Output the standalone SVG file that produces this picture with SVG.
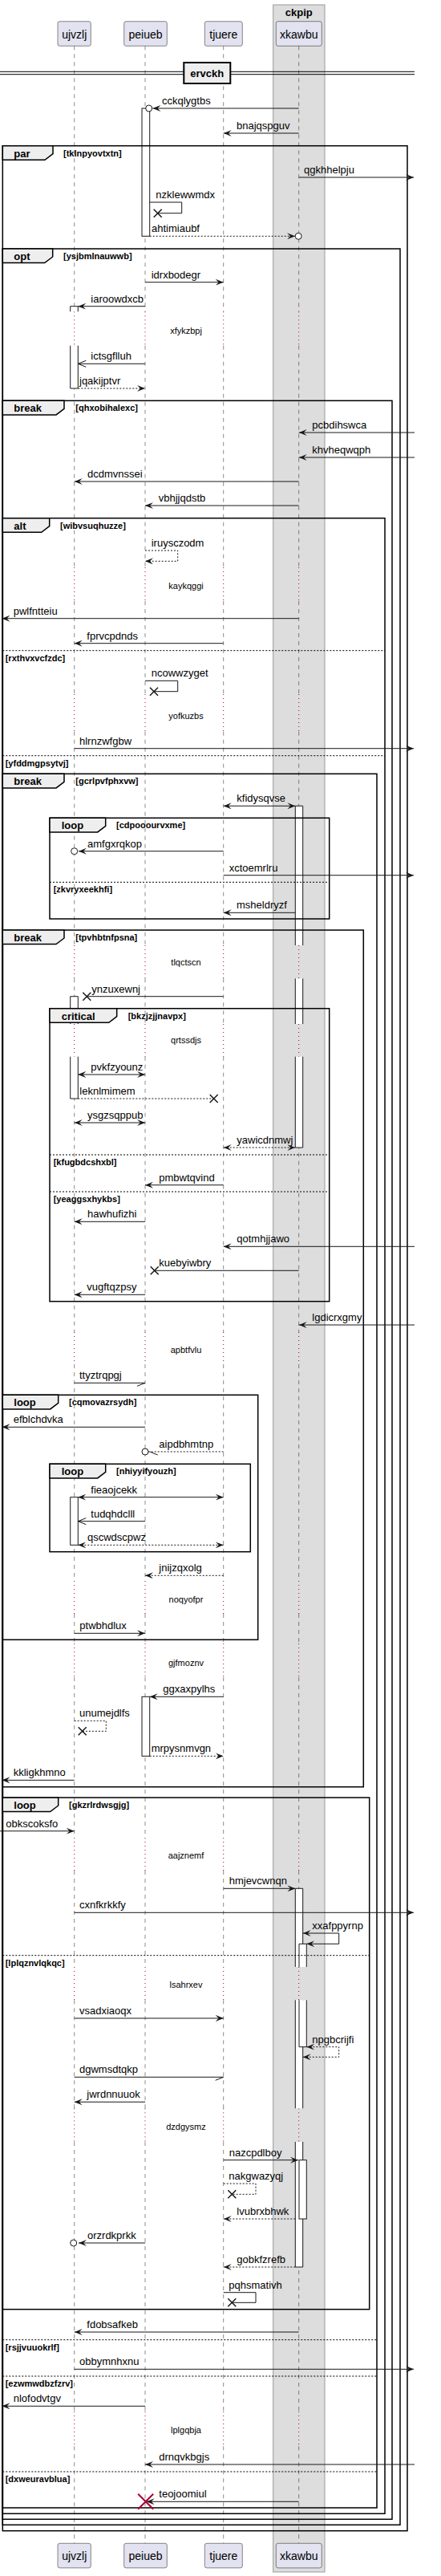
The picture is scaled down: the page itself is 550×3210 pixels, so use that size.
<svg xmlns="http://www.w3.org/2000/svg" width="550" height="3210" viewBox="0 0 550 3210">
<defs>
<style>
text{font-family:"Liberation Sans",Arial,sans-serif;fill:#000}
.t{font-size:13px}
.pn{font-size:14px;text-anchor:middle}
.g{font-weight:bold;font-size:11px}
.tb{font-weight:bold;font-size:13px}
.dt{font-size:11px;text-anchor:middle}
.ll{stroke:#181818;stroke-width:0.5;stroke-dasharray:5,5;fill:none}
.dl{stroke:#A80036;stroke-width:1;stroke-dasharray:1,4;fill:none}
.af{fill:#fff;stroke:none}
.ae{fill:none;stroke:#181818;stroke-width:1}
.ar{fill:#fff;stroke:#181818;stroke-width:1}
.fr{fill:none;stroke:#000;stroke-width:1.5}
.tab{fill:#EEEEEE;stroke:#000;stroke-width:1.5}
.el{stroke:#000;stroke-width:1;stroke-dasharray:2,2}
.m{stroke:#181818;stroke-width:1;fill:none}
.md{stroke:#181818;stroke-width:1;fill:none;stroke-dasharray:2,2}
.x{stroke:#181818;stroke-width:1.5}
.c{fill:#fff;stroke:#181818;stroke-width:1}
.p{fill:#E2E2F0;stroke:#181818;stroke-width:0.5}
</style>
<marker id="ah" viewBox="0 0 10 8" refX="10" refY="4" markerWidth="10" markerHeight="8" orient="auto" markerUnits="userSpaceOnUse"><path d="M0,0 L10,4 L0,8 L4,4 Z" fill="#181818"/></marker>
<marker id="as" viewBox="0 0 10 8" refX="0" refY="4" markerWidth="10" markerHeight="8" orient="auto" markerUnits="userSpaceOnUse"><path d="M10,0 L0,4 L10,8 L6,4 Z" fill="#181818"/></marker>
<marker id="ao" viewBox="-1 -1 12 10" refX="10" refY="4" markerWidth="12" markerHeight="10" orient="auto" markerUnits="userSpaceOnUse"><path d="M0,0 L10,4 L0,8" fill="none" stroke="#181818" stroke-width="1"/></marker>
</defs>
<rect width="550" height="3210" fill="#fff"/>
<g id="box-ckpip">
<rect x="340.7" y="6" width="64.3" height="3199" fill="#DDDDDD" stroke="#999" stroke-width="1"/>
<text x="372.8" y="20" class="tb" text-anchor="middle">ckpip</text>
</g>
<g id="lifelines">
<path class="ll" d="M92.7,57.3V388.3M92.7,430.7V707M92.7,749V865M92.7,911.7V1178M92.7,1219.3V1276M92.7,1316.7V1660M92.7,1700V1970M92.7,2011V2048M92.7,2090V2290M92.7,2331V2451M92.7,2492.3V2627.3M92.7,2669V3005M92.7,3048.3V3169.3"/>
<path class="ll" d="M181,57.3V388.3M181,430.7V707M181,749V865M181,911.7V1178M181,1219.3V1276M181,1316.7V1660M181,1700V1970M181,2011V2048M181,2090V2290M181,2331V2451M181,2492.3V2627.3M181,2669V3005M181,3048.3V3169.3"/>
<path class="ll" d="M278.7,57.3V388.3M278.7,430.7V707M278.7,749V865M278.7,911.7V1178M278.7,1219.3V1276M278.7,1316.7V1660M278.7,1700V1970M278.7,2011V2048M278.7,2090V2290M278.7,2331V2451M278.7,2492.3V2627.3M278.7,2669V3005M278.7,3048.3V3169.3"/>
<path class="ll" d="M372.7,57.3V388.3M372.7,430.7V707M372.7,749V865M372.7,911.7V1178M372.7,1219.3V1276M372.7,1316.7V1660M372.7,1700V1970M372.7,2011V2048M372.7,2090V2290M372.7,2331V2451M372.7,2492.3V2627.3M372.7,2669V3005M372.7,3048.3V3169.3"/>
</g>
<g id="delays">
<path class="dl" d="M92.7,388.3V430.7M92.7,707V749M92.7,865V911.7M92.7,1178V1219.3M92.7,1276V1316.7M92.7,1660V1700M92.7,1970V2011M92.7,2048V2090M92.7,2290V2331M92.7,2451V2492.3M92.7,2627.3V2669M92.7,3005V3048.3"/>
<path class="dl" d="M181,388.3V430.7M181,707V749M181,865V911.7M181,1178V1219.3M181,1276V1316.7M181,1660V1700M181,1970V2011M181,2048V2090M181,2290V2331M181,2451V2492.3M181,2627.3V2669M181,3005V3048.3"/>
<path class="dl" d="M278.7,388.3V430.7M278.7,707V749M278.7,865V911.7M278.7,1178V1219.3M278.7,1276V1316.7M278.7,1660V1700M278.7,1970V2011M278.7,2048V2090M278.7,2290V2331M278.7,2451V2492.3M278.7,2627.3V2669M278.7,3005V3048.3"/>
<path class="dl" d="M372.7,388.3V430.7M372.7,707V749M372.7,865V911.7M372.7,1178V1219.3M372.7,1276V1316.7M372.7,1660V1700M372.7,1970V2011M372.7,2048V2090M372.7,2290V2331M372.7,2451V2492.3M372.7,2627.3V2669M372.7,3005V3048.3"/>
<text class="dt" x="232" y="415.5">xfykzbpj</text>
<text class="dt" x="232" y="733.5">kaykqggi</text>
<text class="dt" x="232" y="895.5">yofkuzbs</text>
<text class="dt" x="232" y="1203">tlqctscn</text>
<text class="dt" x="232" y="1300">qrtssdjs</text>
<text class="dt" x="232" y="1685.5">apbtfvlu</text>
<text class="dt" x="232" y="1997">noqyofpr</text>
<text class="dt" x="232" y="2076">gjfmoznv</text>
<text class="dt" x="232" y="2315.5">aajznemf</text>
<text class="dt" x="232" y="2477">lsahrxev</text>
<text class="dt" x="232" y="2654">dzdgysmz</text>
<text class="dt" x="232" y="3032">lplgqbja</text>
</g>
<g id="activations">
<rect class="ar" x="177" y="135" width="9.7" height="159.3"/>
<rect class="af" x="87.7" y="381.7" width="9.6" height="6.6"/><path class="ae" d="M87.7,388.3V381.7H97.3V388.3"/>
<rect class="af" x="87.7" y="430.7" width="9.6" height="53.3"/><path class="ae" d="M87.7,430.7V484H97.3V430.7"/>
<rect class="af" x="368.3" y="1004.3" width="9.4" height="173.7"/><path class="ae" d="M368.3,1178V1004.3H377.7V1178"/>
<rect class="af" x="368.3" y="1219.3" width="9.4" height="56.7"/><path class="ae" d="M368.3,1219.3V1276M377.7,1219.3V1276"/>
<rect class="af" x="368.3" y="1316.7" width="9.4" height="113.3"/><path class="ae" d="M368.3,1316.7V1430H377.7V1316.7"/>
<rect class="af" x="87.7" y="1241.7" width="9.6" height="34.3"/><path class="ae" d="M87.7,1276V1241.7H97.3V1276"/>
<rect class="af" x="87.7" y="1316.7" width="9.6" height="52.3"/><path class="ae" d="M87.7,1316.7V1369H97.3V1316.7"/>
<rect class="ar" x="87.7" y="1865.7" width="9.6" height="59.6"/>
<rect class="ar" x="177" y="2114.3" width="9.7" height="74"/>
<rect class="af" x="368.3" y="2353.3" width="9.4" height="97.7"/><path class="ae" d="M368.3,2451V2353.3H377.7V2451"/>
<rect class="af" x="368.3" y="2492.3" width="9.4" height="135"/><path class="ae" d="M368.3,2492.3V2627.3M377.7,2492.3V2627.3"/>
<rect class="af" x="368.3" y="2669" width="9.4" height="156"/><path class="ae" d="M368.3,2669V2825H377.7V2669"/>
<rect class="af" x="373" y="2422.3" width="9.3" height="28.7"/><path class="ae" d="M373,2451V2422.3H382.3V2451"/>
<rect class="af" x="373" y="2492.3" width="9.3" height="58.4"/><path class="ae" d="M373,2492.3V2550.7H382.3V2492.3"/>
<rect class="ar" x="373" y="2691.7" width="9.3" height="73.3"/>
</g>
<g id="frames">
<g id="f-par"><rect class="fr" x="3.3" y="181.7" width="504.7" height="2972"/><polygon class="tab" points="3.3,181.7 66,181.7 66,191.7 56,199.3 3.3,199.3"/><text class="tb" x="17.3" y="195.7">par</text><text class="g" x="79" y="194.7">[tklnpyovtxtn]</text></g>
<g id="f-opt"><rect class="fr" x="3.3" y="310" width="495.7" height="2836.3"/><polygon class="tab" points="3.3,310 65.7,310 65.7,320 55.7,327.6 3.3,327.6"/><text class="tb" x="17.3" y="324">opt</text><text class="g" x="79" y="323">[ysjbmlnauwwb]</text></g>
<g id="f-break1"><rect class="fr" x="3.3" y="499.3" width="485.7" height="2640"/><polygon class="tab" points="3.3,499.3 80,499.3 80,509.3 70,516.9 3.3,516.9"/><text class="tb" x="17.3" y="513.3">break</text><text class="g" x="94.3" y="512.3">[qhxobihalexc]</text></g>
<g id="f-alt"><rect class="fr" x="3.3" y="645.7" width="476.7" height="2486.6"/><polygon class="tab" points="3.3,645.7 61.7,645.7 61.7,655.7 51.7,663.3 3.3,663.3"/><text class="tb" x="17.3" y="659.7">alt</text><text class="g" x="75" y="658.7">[wibvsuqhuzze]</text>
<line class="el" x1="3.3" y1="810.7" x2="480" y2="810.7"/><text class="g" x="6.7" y="823.5">[rxthvxvcfzdc]</text>
<line class="el" x1="3.3" y1="941.7" x2="480" y2="941.7"/><text class="g" x="6.7" y="954.5">[yfddmgpsytvj]</text></g>
<g id="f-break2"><rect class="fr" x="3.3" y="964.3" width="466.7" height="2160.7"/><polygon class="tab" points="3.3,964.3 80,964.3 80,974.3 70,981.9 3.3,981.9"/><text class="tb" x="17.3" y="978.3">break</text><text class="g" x="94.3" y="977.3">[gcrlpvfphxvw]</text>
<line class="el" x1="3.3" y1="2915.7" x2="470" y2="2915.7"/><text class="g" x="6.7" y="2928.5">[rsjjvuuokrlf]</text>
<line class="el" x1="3.3" y1="2961" x2="470" y2="2961"/><text class="g" x="6.7" y="2974">[ezwmwdbzfzrv]</text>
<line class="el" x1="3.3" y1="3080" x2="470" y2="3080"/><text class="g" x="6.7" y="3093">[dxweuravblua]</text></g>
<g id="f-loop1"><rect class="fr" x="62" y="1019.3" width="348.7" height="125.7"/><polygon class="tab" points="62,1019.3 131.7,1019.3 131.7,1029.3 121.7,1036.9 62,1036.9"/><text class="tb" x="76.7" y="1033.3">loop</text><text class="g" x="145" y="1032.3">[cdpooourvxme]</text>
<line class="el" x1="62" y1="1099.3" x2="410.7" y2="1099.3"/><text class="g" x="66.7" y="1112">[zkvryxeekhfi]</text></g>
<g id="f-break3"><rect class="fr" x="3.3" y="1159" width="450" height="1067.7"/><polygon class="tab" points="3.3,1159 80,1159 80,1169 70,1176.6 3.3,1176.6"/><text class="tb" x="17.3" y="1173">break</text><text class="g" x="94.3" y="1172">[tpvhbtnfpsna]</text></g>
<g id="f-critical"><rect class="fr" x="62" y="1256.7" width="348.7" height="365"/><polygon class="tab" points="62,1256.7 145.7,1256.7 145.7,1266.7 135.7,1274.3 62,1274.3"/><text class="tb" x="76.7" y="1270.7">critical</text><text class="g" x="159.7" y="1269.7">[bkzjzjjnavpx]</text>
<line class="el" x1="62" y1="1439" x2="410.7" y2="1439"/><text class="g" x="66.7" y="1452">[kfugbdcshxbl]</text>
<line class="el" x1="62" y1="1485" x2="410.7" y2="1485"/><text class="g" x="66.7" y="1498">[yeaggsxhykbs]</text></g>
<g id="f-loop2"><rect class="fr" x="3.3" y="1738.3" width="318.4" height="305"/><polygon class="tab" points="3.3,1738.3 72.7,1738.3 72.7,1748.3 62.7,1755.9 3.3,1755.9"/><text class="tb" x="17.3" y="1752.3">loop</text><text class="g" x="86" y="1751.3">[cqmovazrsydh]</text></g>
<g id="f-loop3"><rect class="fr" x="62" y="1824.3" width="250.3" height="109.4"/><polygon class="tab" points="62,1824.3 131.7,1824.3 131.7,1834.3 121.7,1841.9 62,1841.9"/><text class="tb" x="76.7" y="1838.3">loop</text><text class="g" x="145" y="1837.3">[nhiyyifyouzh]</text></g>
<g id="f-loop4"><rect class="fr" x="3.3" y="2240" width="457.4" height="637.7"/><polygon class="tab" points="3.3,2240 72.7,2240 72.7,2250 62.7,2257.6 3.3,2257.6"/><text class="tb" x="17.3" y="2254">loop</text><text class="g" x="86" y="2253">[gkzrlrdwsgjg]</text>
<line class="el" x1="3.3" y1="2436.7" x2="460.7" y2="2436.7"/><text class="g" x="6.7" y="2449.5">[lplqznvlqkqc]</text></g>
</g>
<g id="divider-ervckh">
<line x1="0" y1="89.3" x2="517" y2="89.3" stroke="#000" stroke-width="1"/>
<line x1="0" y1="92.7" x2="517" y2="92.7" stroke="#000" stroke-width="1"/>
<rect x="229.3" y="78" width="58" height="26" fill="#EEEEEE" stroke="#000" stroke-width="2"/>
<text class="tb" x="258.3" y="95.5" text-anchor="middle">ervckh</text>
</g>
<g id="p-ujvzlj"><rect class="p" x="72" y="26.7" width="41.3" height="30.6" rx="2.5"/><text class="pn" x="92.7" y="47.5">ujvzlj</text><rect class="p" x="72" y="3169.3" width="41.3" height="30.6" rx="2.5"/><text class="pn" x="92.7" y="3190">ujvzlj</text></g>
<g id="p-peiueb"><rect class="p" x="154.7" y="26.7" width="53.6" height="30.6" rx="2.5"/><text class="pn" x="181.5" y="47.5">peiueb</text><rect class="p" x="154.7" y="3169.3" width="53.6" height="30.6" rx="2.5"/><text class="pn" x="181.5" y="3190">peiueb</text></g>
<g id="p-tjuere"><rect class="p" x="255.3" y="26.7" width="47" height="30.6" rx="2.5"/><text class="pn" x="278.8" y="47.5">tjuere</text><rect class="p" x="255.3" y="3169.3" width="47" height="30.6" rx="2.5"/><text class="pn" x="278.8" y="3190">tjuere</text></g>
<g id="p-xkawbu"><rect class="p" x="344.3" y="26.7" width="57" height="30.6" rx="2.5"/><text class="pn" x="372.8" y="47.5">xkawbu</text><rect class="p" x="344.3" y="3169.3" width="57" height="30.6" rx="2.5"/><text class="pn" x="372.8" y="3190">xkawbu</text></g>
<g id="connectors">
<line class="m" x1="372.7" y1="135" x2="190.5" y2="135" marker-end="url(#ah)"/><circle class="c" cx="185.7" cy="135" r="4"/><text class="t" x="202" y="130">cckqlygtbs</text>
<line class="m" x1="372.7" y1="166" x2="278.7" y2="166" marker-end="url(#ah)"/><text class="t" x="295" y="161">bnajqspguv</text>
<line class="m" x1="372.7" y1="221" x2="516" y2="221" marker-end="url(#ah)"/><text class="t" x="379" y="216">qgkhhelpju</text>
<path class="m" d="M186.7,252H226.7V265.7H196.7"/><path class="x" d="M191.7,260.7L201.7,270.7M191.7,270.7L201.7,260.7"/><text class="t" x="194.3" y="247">nzklewwmdx</text>
<line class="md" x1="186.7" y1="294.3" x2="368" y2="294.3" marker-end="url(#ah)"/><circle class="c" cx="372.2" cy="294.3" r="4"/><text class="t" x="189" y="289.3">ahtimiaubf</text>
<line class="m" x1="181" y1="351.7" x2="278.7" y2="351.7" marker-end="url(#ah)"/><text class="t" x="188.7" y="346.7">idrxbodegr</text>
<line class="m" x1="181" y1="381.7" x2="97.3" y2="381.7" marker-end="url(#ah)"/><text class="t" x="113.3" y="376.7">iaroowdxcb</text>
<line class="m" x1="181" y1="453.3" x2="97.3" y2="453.3" marker-end="url(#ao)"/><text class="t" x="113.3" y="448.3">ictsgflluh</text>
<line class="md" x1="97.3" y1="484" x2="181" y2="484" marker-end="url(#ah)"/><text class="t" x="99" y="479">jqakijptvr</text>
<line class="m" x1="517" y1="539" x2="372.7" y2="539" marker-end="url(#ah)"/><text class="t" x="389.3" y="534">pcbdihswca</text>
<line class="m" x1="517" y1="570" x2="372.7" y2="570" marker-end="url(#ah)"/><text class="t" x="389.3" y="565">khvheqwqph</text>
<line class="m" x1="372.7" y1="600" x2="92.7" y2="600" marker-end="url(#ah)"/><text class="t" x="109" y="595">dcdmvnssei</text>
<line class="m" x1="372.7" y1="630" x2="181" y2="630" marker-end="url(#ah)"/><text class="t" x="197.7" y="625">vbhjjqdstb</text>
<path class="md" d="M181,686H221.7V699.3H181" marker-end="url(#ah)"/><text class="t" x="188.7" y="681">iruysczodm</text>
<line class="m" x1="372.7" y1="770.7" x2="2.5" y2="770.7" marker-end="url(#ah)"/><text class="t" x="16.7" y="765.7">pwlfntteiu</text>
<line class="m" x1="278.7" y1="801.7" x2="92.7" y2="801.7" marker-end="url(#ah)"/><text class="t" x="108.3" y="796.7">fprvcpdnds</text>
<path class="m" d="M181,848.3H221.7V861.7H192"/><path class="x" d="M187,856.7L197,866.7M187,866.7L197,856.7"/><text class="t" x="188.7" y="843.3">ncowwzyget</text>
<line class="m" x1="92.7" y1="932.7" x2="516" y2="932.7" marker-end="url(#ah)"/><text class="t" x="99" y="927.7">hlrnzwfgbw</text>
<line class="m" x1="278.7" y1="1004.3" x2="368.3" y2="1004.3" marker-start="url(#as)" marker-end="url(#ah)"/><text class="t" x="295.3" y="999.3">kfidysqvse</text>
<line class="m" x1="278.7" y1="1060.7" x2="98" y2="1060.7" marker-end="url(#ah)"/><circle class="c" cx="92.7" cy="1060.7" r="4"/><text class="t" x="109" y="1055.7">amfgxrqkop</text>
<line class="m" x1="278.7" y1="1090.7" x2="516" y2="1090.7" marker-end="url(#ah)"/><text class="t" x="285.7" y="1085.7">xctoemrlru</text>
<line class="m" x1="368.3" y1="1137.3" x2="278.7" y2="1137.3" marker-end="url(#ah)"/><text class="t" x="295" y="1132.3">msheldryzf</text>
<line class="m" x1="278.7" y1="1241.7" x2="108.3" y2="1241.7"/><path class="x" d="M103.3,1236.7L113.3,1246.7M103.3,1246.7L113.3,1236.7"/><text class="t" x="114.3" y="1236.7">ynzuxewnj</text>
<line class="m" x1="97.3" y1="1339" x2="181" y2="1339" marker-start="url(#as)" marker-end="url(#ah)"/><text class="t" x="113.3" y="1334">pvkfzyounz</text>
<line class="md" x1="97.3" y1="1369" x2="266.7" y2="1369"/><path class="x" d="M261.7,1364L271.7,1374M261.7,1374L271.7,1364"/><text class="t" x="99.3" y="1364">leknlmimem</text>
<line class="m" x1="92.7" y1="1399" x2="181" y2="1399" marker-start="url(#as)" marker-end="url(#ah)"/><text class="t" x="109" y="1394">ysgzsqppub</text>
<line class="md" x1="278.7" y1="1430" x2="368.3" y2="1430" marker-start="url(#as)" marker-end="url(#ah)"/><text class="t" x="295.3" y="1425">yawicdnmwj</text>
<line class="m" x1="278.7" y1="1476.7" x2="181" y2="1476.7" marker-end="url(#ah)"/><text class="t" x="198.3" y="1471.7">pmbwtqvind</text>
<line class="m" x1="181" y1="1522.3" x2="92.7" y2="1522.3" marker-end="url(#ah)"/><text class="t" x="109" y="1517.3">hawhufizhi</text>
<line class="m" x1="517" y1="1553.3" x2="278.7" y2="1553.3" marker-end="url(#ah)"/><text class="t" x="295.3" y="1548.3">qotmhjjawo</text>
<line class="m" x1="372.7" y1="1583.3" x2="192.7" y2="1583.3"/><path class="x" d="M187.7,1578.3L197.7,1588.3M187.7,1588.3L197.7,1578.3"/><text class="t" x="198.3" y="1578.3">kuebyiwbry</text>
<line class="m" x1="181" y1="1613.3" x2="92.7" y2="1613.3" marker-end="url(#ah)"/><text class="t" x="108.3" y="1608.3">vugftqzpsy</text>
<line class="m" x1="517" y1="1651" x2="372.7" y2="1651" marker-end="url(#ah)"/><text class="t" x="389.3" y="1646">lgdicrxgmy</text>
<path class="m" d="M92.7,1723.3H181L171,1727.3"/><text class="t" x="99" y="1718.3">ttyztrqpgj</text>
<line class="m" x1="181" y1="1778.3" x2="2.5" y2="1778.3" marker-end="url(#ah)"/><text class="t" x="16.7" y="1773.3">efblchdvka</text>
<line class="md" x1="278.7" y1="1809" x2="185" y2="1809"/><line class="m" x1="186.7" y1="1809" x2="196.7" y2="1813"/><circle class="c" cx="181" cy="1809" r="4"/><text class="t" x="198.3" y="1804">aipdbhmtnp</text>
<line class="m" x1="97.3" y1="1865.7" x2="278.7" y2="1865.7" marker-start="url(#as)" marker-end="url(#ah)"/><text class="t" x="113.3" y="1860.7">fieaojcekk</text>
<line class="m" x1="181" y1="1895.7" x2="97.3" y2="1895.7" marker-end="url(#ao)"/><text class="t" x="113.3" y="1890.7">tudqhdclll</text>
<line class="md" x1="97.3" y1="1925.3" x2="278.7" y2="1925.3" marker-start="url(#as)" marker-end="url(#ah)"/><text class="t" x="109" y="1920.3">qscwdscpwz</text>
<line class="md" x1="278.7" y1="1963.3" x2="181" y2="1963.3" marker-end="url(#ah)"/><text class="t" x="198.3" y="1958.3">jnijzqxolg</text>
<line class="m" x1="92.7" y1="2035.3" x2="181" y2="2035.3" marker-end="url(#ah)"/><text class="t" x="99.3" y="2030.3">ptwbhdlux</text>
<line class="m" x1="278.7" y1="2114.3" x2="186.7" y2="2114.3" marker-end="url(#ah)"/><text class="t" x="203.3" y="2109.3">ggxaxpylhs</text>
<path class="md" d="M92.7,2144.3H132.3V2157.3H102.7"/><path class="x" d="M97.7,2152.3L107.7,2162.3M97.7,2162.3L107.7,2152.3"/><text class="t" x="99" y="2139.3">unumejdlfs</text>
<line class="md" x1="186.7" y1="2188.3" x2="278.7" y2="2188.3" marker-end="url(#ah)"/><text class="t" x="188.7" y="2183.3">mrpysnmvgn</text>
<line class="m" x1="92.7" y1="2218.3" x2="2.5" y2="2218.3" marker-end="url(#ah)"/><text class="t" x="16.7" y="2213.3">kkligkhmno</text>
<line class="m" x1="0" y1="2281.7" x2="92.7" y2="2281.7" marker-end="url(#ah)"/><text class="t" x="7.3" y="2276.7">obkscoksfo</text>
<line class="m" x1="278.7" y1="2353.3" x2="368.3" y2="2353.3" marker-end="url(#ah)"/><text class="t" x="285.7" y="2348.3">hmjevcwnqn</text>
<line class="m" x1="92.7" y1="2383.3" x2="516" y2="2383.3" marker-end="url(#ah)"/><text class="t" x="99" y="2378.3">cxnfkrkkfy</text>
<path class="m" d="M377.7,2409H422.7V2422.3H382.3" marker-start="url(#as)" marker-end="url(#ah)"/><text class="t" x="389.3" y="2404">xxafppyrnp</text>
<line class="m" x1="92.7" y1="2515" x2="278.7" y2="2515" marker-end="url(#ah)"/><text class="t" x="99" y="2510">vsadxiaoqx</text>
<path class="md" d="M382.3,2550.7H422.7V2563.3H377.7" marker-start="url(#as)" marker-end="url(#ah)"/><text class="t" x="389.3" y="2545.7">npgbcrijfi</text>
<path class="m" d="M92.7,2588.3H278.7L268.7,2592.3"/><text class="t" x="99" y="2583.3">dgwmsdtqkp</text>
<line class="m" x1="181" y1="2619.3" x2="92.7" y2="2619.3" marker-end="url(#ah)"/><text class="t" x="108.3" y="2614.3">jwrdnnuuok</text>
<line class="m" x1="278.7" y1="2691.7" x2="372" y2="2691.7" marker-end="url(#ah)"/><text class="t" x="285.7" y="2686.7">nazcpdlboy</text>
<path class="md" d="M278.7,2721H319V2734.3H289.3"/><path class="x" d="M284.3,2729.3L294.3,2739.3M284.3,2739.3L294.3,2729.3"/><text class="t" x="285.3" y="2716">nakgwazyqj</text>
<line class="md" x1="368.3" y1="2765" x2="278.7" y2="2765" marker-end="url(#ah)"/><text class="t" x="295.3" y="2760">lvubrxbhwk</text>
<line class="m" x1="181" y1="2795" x2="98" y2="2795" marker-end="url(#ah)"/><circle class="c" cx="91.7" cy="2795" r="4"/><text class="t" x="109" y="2790">orzrdkprkk</text>
<line class="md" x1="368.3" y1="2825" x2="278.7" y2="2825" marker-end="url(#ah)"/><text class="t" x="295.3" y="2820">gobkfzrefb</text>
<path class="m" d="M278.7,2856.7H319V2869.3H289.3"/><path class="x" d="M284.3,2864.3L294.3,2874.3M284.3,2874.3L294.3,2864.3"/><text class="t" x="285.3" y="2851.7">pqhsmativh</text>
<line class="m" x1="372.7" y1="2906" x2="92.7" y2="2906" marker-end="url(#ah)"/><text class="t" x="108.3" y="2901">fdobsafkeb</text>
<line class="m" x1="92.7" y1="2952.3" x2="516" y2="2952.3" marker-end="url(#ah)"/><text class="t" x="99" y="2947.3">obbymnhxnu</text>
<line class="m" x1="181" y1="2998.3" x2="2.5" y2="2998.3" marker-end="url(#ah)"/><text class="t" x="16.7" y="2993.3">nlofodvtgv</text>
<line class="m" x1="517" y1="3071" x2="181" y2="3071" marker-end="url(#ah)"/><text class="t" x="198.3" y="3066">drnqvkbgjs</text>
<line class="m" x1="372.7" y1="3117.3" x2="182.7" y2="3117.3" marker-end="url(#ah)"/><path d="M172.2,3107.8L191.2,3126.8M172.2,3126.8L191.2,3107.8" stroke="#A80036" stroke-width="2"/><text class="t" x="198.3" y="3112.3">teojoomiul</text>
</g>
</svg>
